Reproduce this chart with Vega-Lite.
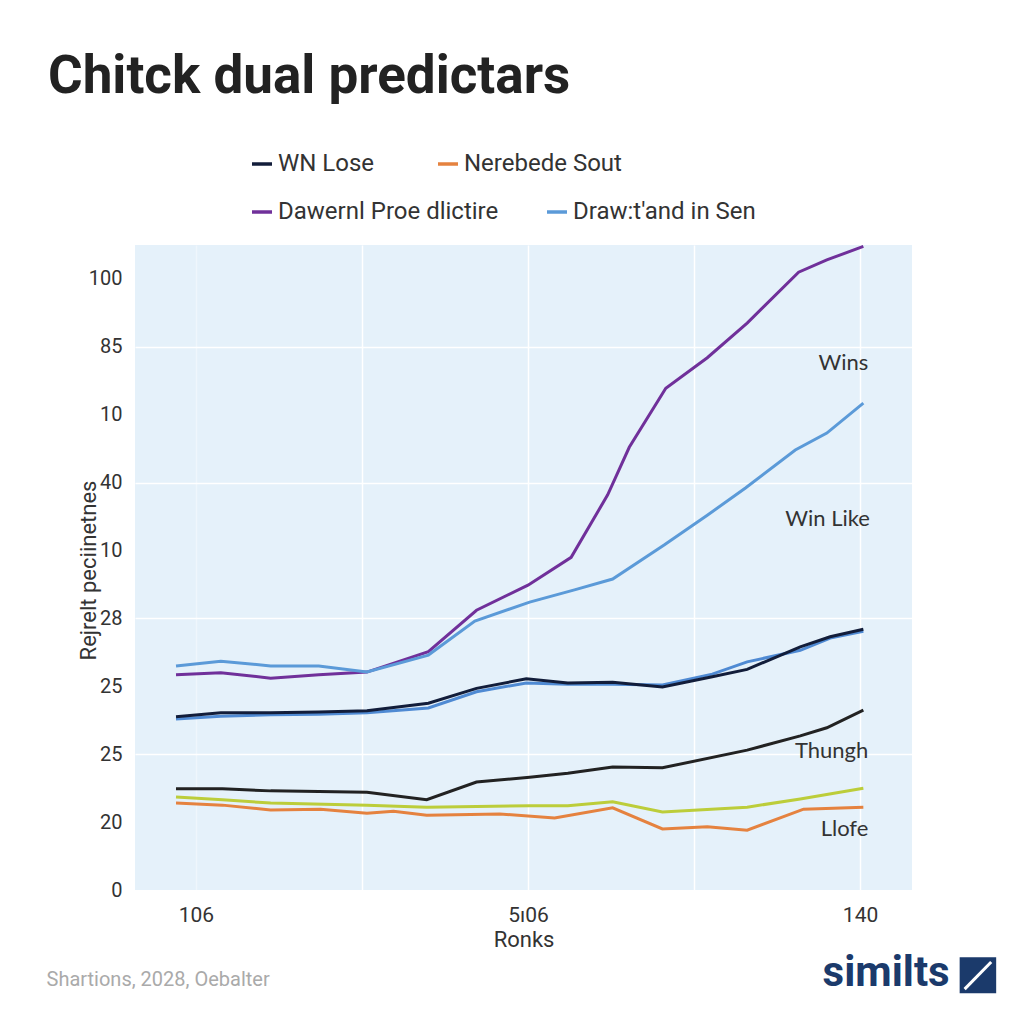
{
  "$schema": "https://vega.github.io/schema/vega-lite/v6.json",
  "width": 777,
  "height": 645,
  "autosize": "none",
  "padding": {"left": 135, "top": 245, "right": 112, "bottom": 134},
  "background": "#ffffff",
  "config": {
    "view": {"fill": "#e5f1fa", "stroke": null},
    "font": "Roboto"
  },
  "title": {
    "text": "Chitck dual predictars",
    "anchor": "start",
    "frame": "group",
    "font": "Roboto",
    "fontSize": 53,
    "fontWeight": "bold",
    "color": "#222222",
    "dx": -87,
    "dy": -48,
    "offset": 0
  },
  "datasets": {
    "lines": [
      {"s": "Dawernl Proe dlictire", "x": -1.2, "y": 3.17},
      {"s": "Dawernl Proe dlictire", "x": 1.5, "y": 3.20},
      {"s": "Dawernl Proe dlictire", "x": 4.5, "y": 3.12},
      {"s": "Dawernl Proe dlictire", "x": 7.4, "y": 3.17},
      {"s": "Dawernl Proe dlictire", "x": 10.3, "y": 3.21},
      {"s": "Dawernl Proe dlictire", "x": 14.0, "y": 3.51},
      {"s": "Dawernl Proe dlictire", "x": 16.9, "y": 4.12},
      {"s": "Dawernl Proe dlictire", "x": 20.0, "y": 4.49},
      {"s": "Dawernl Proe dlictire", "x": 22.6, "y": 4.90},
      {"s": "Dawernl Proe dlictire", "x": 24.8, "y": 5.82},
      {"s": "Dawernl Proe dlictire", "x": 26.1, "y": 6.52},
      {"s": "Dawernl Proe dlictire", "x": 28.3, "y": 7.39},
      {"s": "Dawernl Proe dlictire", "x": 30.8, "y": 7.84},
      {"s": "Dawernl Proe dlictire", "x": 33.2, "y": 8.35},
      {"s": "Dawernl Proe dlictire", "x": 36.3, "y": 9.10},
      {"s": "Dawernl Proe dlictire", "x": 38.0, "y": 9.28},
      {"s": "Dawernl Proe dlictire", "x": 40.2, "y": 9.48},

      {"s": "Draw:t'and in Sen", "x": -1.2, "y": 3.30},
      {"s": "Draw:t'and in Sen", "x": 1.5, "y": 3.37},
      {"s": "Draw:t'and in Sen", "x": 4.5, "y": 3.30},
      {"s": "Draw:t'and in Sen", "x": 7.4, "y": 3.30},
      {"s": "Draw:t'and in Sen", "x": 10.3, "y": 3.21},
      {"s": "Draw:t'and in Sen", "x": 14.0, "y": 3.46},
      {"s": "Draw:t'and in Sen", "x": 16.8, "y": 3.96},
      {"s": "Draw:t'and in Sen", "x": 20.1, "y": 4.24},
      {"s": "Draw:t'and in Sen", "x": 22.8, "y": 4.42},
      {"s": "Draw:t'and in Sen", "x": 25.1, "y": 4.58},
      {"s": "Draw:t'and in Sen", "x": 28.2, "y": 5.08},
      {"s": "Draw:t'and in Sen", "x": 30.8, "y": 5.52},
      {"s": "Draw:t'and in Sen", "x": 33.1, "y": 5.92},
      {"s": "Draw:t'and in Sen", "x": 36.1, "y": 6.48},
      {"s": "Draw:t'and in Sen", "x": 38.0, "y": 6.73},
      {"s": "Draw:t'and in Sen", "x": 40.2, "y": 7.17},

      {"s": "Companion", "x": -1.2, "y": 2.52},
      {"s": "Companion", "x": 1.5, "y": 2.56},
      {"s": "Companion", "x": 4.5, "y": 2.58},
      {"s": "Companion", "x": 7.4, "y": 2.59},
      {"s": "Companion", "x": 10.3, "y": 2.61},
      {"s": "Companion", "x": 14.0, "y": 2.68},
      {"s": "Companion", "x": 16.9, "y": 2.92},
      {"s": "Companion", "x": 19.9, "y": 3.05},
      {"s": "Companion", "x": 22.4, "y": 3.03},
      {"s": "Companion", "x": 25.1, "y": 3.03},
      {"s": "Companion", "x": 28.1, "y": 3.02},
      {"s": "Companion", "x": 31.1, "y": 3.18},
      {"s": "Companion", "x": 33.2, "y": 3.36},
      {"s": "Companion", "x": 36.4, "y": 3.53},
      {"s": "Companion", "x": 38.2, "y": 3.71},
      {"s": "Companion", "x": 40.2, "y": 3.81},

      {"s": "WN Lose", "x": -1.2, "y": 2.55},
      {"s": "WN Lose", "x": 1.5, "y": 2.61},
      {"s": "WN Lose", "x": 4.5, "y": 2.61},
      {"s": "WN Lose", "x": 7.4, "y": 2.62},
      {"s": "WN Lose", "x": 10.3, "y": 2.64},
      {"s": "WN Lose", "x": 14.0, "y": 2.75},
      {"s": "WN Lose", "x": 16.9, "y": 2.97},
      {"s": "WN Lose", "x": 19.9, "y": 3.11},
      {"s": "WN Lose", "x": 22.4, "y": 3.05},
      {"s": "WN Lose", "x": 25.1, "y": 3.06},
      {"s": "WN Lose", "x": 28.1, "y": 2.99},
      {"s": "WN Lose", "x": 31.1, "y": 3.14},
      {"s": "WN Lose", "x": 33.2, "y": 3.25},
      {"s": "WN Lose", "x": 36.4, "y": 3.58},
      {"s": "WN Lose", "x": 38.2, "y": 3.73},
      {"s": "WN Lose", "x": 40.2, "y": 3.84},

      {"s": "Thungh", "x": -1.2, "y": 1.49},
      {"s": "Thungh", "x": 1.6, "y": 1.49},
      {"s": "Thungh", "x": 4.5, "y": 1.46},
      {"s": "Thungh", "x": 10.3, "y": 1.44},
      {"s": "Thungh", "x": 13.9, "y": 1.33},
      {"s": "Thungh", "x": 16.9, "y": 1.59},
      {"s": "Thungh", "x": 20.1, "y": 1.66},
      {"s": "Thungh", "x": 22.4, "y": 1.72},
      {"s": "Thungh", "x": 25.1, "y": 1.81},
      {"s": "Thungh", "x": 28.1, "y": 1.80},
      {"s": "Thungh", "x": 33.2, "y": 2.06},
      {"s": "Thungh", "x": 36.4, "y": 2.27},
      {"s": "Thungh", "x": 38.0, "y": 2.39},
      {"s": "Thungh", "x": 40.2, "y": 2.65},

      {"s": "Lime", "x": -1.2, "y": 1.37},
      {"s": "Lime", "x": 1.6, "y": 1.33},
      {"s": "Lime", "x": 4.5, "y": 1.28},
      {"s": "Lime", "x": 10.3, "y": 1.25},
      {"s": "Lime", "x": 13.9, "y": 1.22},
      {"s": "Lime", "x": 20.1, "y": 1.24},
      {"s": "Lime", "x": 22.4, "y": 1.24},
      {"s": "Lime", "x": 25.1, "y": 1.30},
      {"s": "Lime", "x": 28.1, "y": 1.15},
      {"s": "Lime", "x": 33.2, "y": 1.22},
      {"s": "Lime", "x": 36.4, "y": 1.34},
      {"s": "Lime", "x": 40.2, "y": 1.50},

      {"s": "Nerebede Sout", "x": -1.2, "y": 1.28},
      {"s": "Nerebede Sout", "x": 1.6, "y": 1.25},
      {"s": "Nerebede Sout", "x": 4.5, "y": 1.18},
      {"s": "Nerebede Sout", "x": 7.5, "y": 1.19},
      {"s": "Nerebede Sout", "x": 10.3, "y": 1.13},
      {"s": "Nerebede Sout", "x": 11.9, "y": 1.16},
      {"s": "Nerebede Sout", "x": 13.9, "y": 1.10},
      {"s": "Nerebede Sout", "x": 18.3, "y": 1.12},
      {"s": "Nerebede Sout", "x": 21.6, "y": 1.06},
      {"s": "Nerebede Sout", "x": 25.1, "y": 1.21},
      {"s": "Nerebede Sout", "x": 28.1, "y": 0.90},
      {"s": "Nerebede Sout", "x": 30.8, "y": 0.93},
      {"s": "Nerebede Sout", "x": 33.2, "y": 0.88},
      {"s": "Nerebede Sout", "x": 36.6, "y": 1.19},
      {"s": "Nerebede Sout", "x": 40.2, "y": 1.22}
    ],
    "notes": [
      {"t": "Wins", "x": 40.5, "y": 7.76},
      {"t": "Win Like", "x": 40.6, "y": 5.46},
      {"t": "Thungh", "x": 40.5, "y": 2.05},
      {"t": "Llofe", "x": 40.5, "y": 0.9}
    ],
    "source": [
      {"t": "Shartions, 2028, Oebalter", "x": -9.0, "y": -1.33}
    ],
    "logo": [
      {"t": "similts", "x": 45.4, "y": -1.22}
    ],
    "icon": [
      {"x": 46.0, "x2": 48.2, "y": -0.99, "y2": -1.52}
    ],
    "slash": [
      {"x": 46.3, "x2": 47.9, "y": -1.46, "y2": -1.06}
    ]
  },
  "encoding": {
    "x": {
      "field": "x",
      "type": "quantitative",
      "scale": {"domain": [-3.67, 43.13], "nice": false, "zero": false},
      "axis": {
        "values": [0, 10, 20, 30, 40],
        "labelExpr": "datum.value == 0 ? '106' : datum.value == 20 ? '5ı06' : datum.value == 40 ? '140' : ''",
        "title": "Ronks",
        "grid": true,
        "gridColor": "#ffffff",
        "gridWidth": 1.5,
        "gridOpacity": {"condition": {"test": "datum.value == 0", "value": 0.4}, "value": 1},
        "ticks": false,
        "domain": false,
        "labelFontSize": 21,
        "labelColor": "#333333",
        "labelPadding": 14,
        "titleFontSize": 22,
        "titleColor": "#333333",
        "titleFontWeight": "normal",
        "titlePadding": 4
      }
    },
    "y": {
      "field": "y",
      "type": "quantitative",
      "scale": {"domain": [0, 9.5], "nice": false, "zero": false},
      "axis": {
        "values": [0, 1, 2, 3, 4, 5, 6, 7, 8, 9],
        "labelExpr": "['0','20','25','25','28','10','40','10','85','100'][datum.value]",
        "title": "Rejrelt peciinetnes",
        "grid": true,
        "gridColor": "#ffffff",
        "gridWidth": 1.5,
        "gridOpacity": {"condition": {"test": "datum.value % 2 == 1 || datum.value == 0", "value": 0}, "value": 1},
        "ticks": false,
        "domain": false,
        "labelFontSize": 20,
        "labelColor": "#333333",
        "labelPadding": 13,
        "titleFontSize": 22,
        "titleColor": "#333333",
        "titleFontWeight": "normal",
        "titleAngle": 270,
        "titleX": -47,
        "titleY": 325,
        "titleAlign": "center",
        "titleBaseline": "middle"
      }
    }
  },
  "resolve": {"scale": {"color": "independent"}, "legend": {"color": "independent"}},
  "layer": [
    {
      "data": {"name": "lines"},
      "transform": [{"filter": {"field": "s", "oneOf": ["WN Lose", "Nerebede Sout", "Thungh", "Lime", "Companion"]}}],
      "mark": {"type": "line", "strokeWidth": 3, "interpolate": "linear", "clip": false},
      "encoding": {
        "color": {
          "field": "s",
          "type": "nominal",
          "scale": {
            "domain": ["WN Lose", "Nerebede Sout", "Thungh", "Lime", "Companion"],
            "range": ["#121d3a", "#e5823f", "#222222", "#bccd3a", "#4f8ad3"]
          },
          "legend": {
            "values": ["WN Lose", "Nerebede Sout"],
            "orient": "none",
            "direction": "horizontal",
            "legendX": 115,
            "legendY": -93,
            "title": null,
            "symbolType": "stroke",
            "symbolSize": 400,
            "symbolStrokeWidth": 3.5,
            "labelFontSize": 24,
            "labelColor": "#333333",
            "labelLimit": 500,
            "labelOffset": 4,
            "columnPadding": 56
          }
        },
        "detail": {"field": "s"}
      }
    },
    {
      "data": {"name": "lines"},
      "transform": [{"filter": {"field": "s", "oneOf": ["Dawernl Proe dlictire", "Draw:t'and in Sen"]}}],
      "mark": {"type": "line", "strokeWidth": 3, "interpolate": "linear", "clip": false},
      "encoding": {
        "color": {
          "field": "s",
          "type": "nominal",
          "scale": {
            "domain": ["Dawernl Proe dlictire", "Draw:t'and in Sen"],
            "range": ["#70309a", "#5b9ad8"]
          },
          "legend": {
            "orient": "none",
            "direction": "horizontal",
            "legendX": 115,
            "legendY": -45,
            "title": null,
            "symbolType": "stroke",
            "symbolSize": 400,
            "symbolStrokeWidth": 3.5,
            "labelFontSize": 24,
            "labelColor": "#333333",
            "labelLimit": 500,
            "labelOffset": 4,
            "columnPadding": 41
          }
        },
        "detail": {"field": "s"}
      }
    },
    {
      "data": {"name": "notes"},
      "mark": {"type": "text", "align": "right", "baseline": "middle", "fontSize": 22, "color": "#333333", "font": "Lato"},
      "encoding": {"text": {"field": "t"}}
    },
    {
      "data": {"name": "source"},
      "mark": {"type": "text", "align": "left", "baseline": "middle", "fontSize": 20, "color": "#aaaaaa", "clip": false},
      "encoding": {"text": {"field": "t"}}
    },
    {
      "data": {"name": "logo"},
      "mark": {"type": "text", "align": "right", "baseline": "middle", "fontSize": 42, "fontWeight": "bold", "color": "#1b3a6b", "clip": false},
      "encoding": {"text": {"field": "t"}}
    },
    {
      "data": {"name": "icon"},
      "mark": {"type": "rect", "color": "#1b3a6b", "clip": false},
      "encoding": {"x2": {"field": "x2"}, "y2": {"field": "y2"}}
    },
    {
      "data": {"name": "slash"},
      "mark": {"type": "rule", "color": "#ffffff", "strokeWidth": 3, "clip": false},
      "encoding": {"x2": {"field": "x2"}, "y2": {"field": "y2"}}
    }
  ]
}
